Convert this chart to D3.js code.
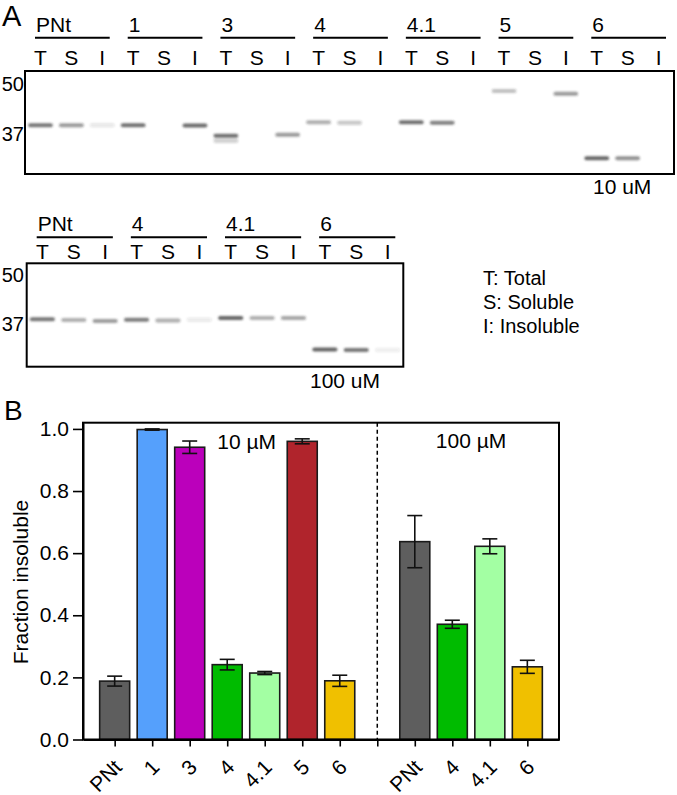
<!DOCTYPE html>
<html><head><meta charset="utf-8">
<script src="https://cdn.jsdelivr.net/npm/d3@7/dist/d3.min.js"></script>
<style>
html,body{margin:0;padding:0;background:#fff;}
svg{display:block;font-family:"Liberation Sans",Arial,Helvetica,sans-serif;}
</style></head>
<body>
<svg id="fig" width="677" height="795"></svg>
<script>
// ---------- Panel A data ----------
const gel1Groups = ["PNt","1","3","4","4.1","5","6"];
const gel2Groups = ["PNt","4","4.1","6"];
const laneLabels = ["T","S","I"];
const markers = [50, 37];
// bands: [lane index, apparent MW (kDa), intensity 0-1]
const gel1Bands = [
  [0,38.9,0.75],[1,38.9,0.55],[2,38.9,0.14],
  [3,38.9,0.78],[5,38.8,0.82],
  [6,36.5,0.8],[6,35.4,0.28],[8,36.7,0.55],
  [9,39.6,0.45],[10,39.5,0.32],
  [12,39.6,0.8],[13,39.5,0.7],
  [15,47.8,0.35],[17,47.0,0.55],
  [18,31.9,0.85],[19,31.9,0.6]
];
const gel2Bands = [
  [0,38.0,0.75],[1,37.8,0.45],[2,37.6,0.55],
  [3,37.9,0.72],[4,37.7,0.45],[5,37.9,0.12],
  [6,38.3,0.85],[7,38.3,0.45],[8,38.3,0.5],
  [9,31.5,0.85],[10,31.4,0.75],[11,31.4,0.1]
];
const legendLines = ["T: Total","S: Soluble","I: Insoluble"];

// ---------- Panel B data ----------
const categories10 = ["PNt","1","3","4","4.1","5","6"];
const means10 = [0.188,0.998,0.941,0.241,0.214,0.960,0.189];
const errs10  = [0.016,0.002,0.020,0.017,0.005,0.008,0.018];
const colors10 = ["#5e5e5e","#55a0fc","#bb00bb","#00bb00","#a3ffa3","#b0242c","#f0c000"];
const categories100 = ["PNt","4","4.1","6"];
const means100 = [0.637,0.371,0.622,0.234];
const errs100  = [0.084,0.013,0.024,0.021];
const colors100 = ["#5e5e5e","#00bb00","#a3ffa3","#f0c000"];
const yTicks = [0,0.2,0.4,0.6,0.8,1.0];

const svg = d3.select("#fig");
const FS = 21;

// blur filter for gel bands
const defs = svg.append("defs");
defs.append("filter").attr("id","blur").attr("x","-20%").attr("y","-100%").attr("width","140%").attr("height","300%")
  .append("feGaussianBlur").attr("stdDeviation","1.2 0.8");

// panel letters
svg.append("text").attr("x",2).attr("y",26).attr("font-size",29).text("A");
svg.append("text").attr("x",4).attr("y",420).attr("font-size",28).text("B");

function drawGel(cfg){
  const g = svg.append("g");
  const nL = cfg.groups.length*3;
  const lane = d3.scaleBand().domain(d3.range(nL)).range([cfg.x0,cfg.x1]);
  const mw = d3.scaleLog().domain([50,37]).range(cfg.mwY);
  // group labels + underlines
  cfg.groups.forEach((name,i)=>{
    const s = lane(i*3)+10, e = lane(i*3+2)+lane.bandwidth()-8;
    g.append("line").attr("x1",s).attr("x2",e).attr("y1",cfg.lineY).attr("y2",cfg.lineY)
      .attr("stroke","#000").attr("stroke-width",2);
    g.append("text").attr("x",s+1).attr("y",cfg.lineY-6).attr("font-size",FS).text(name);
    laneLabels.forEach((l,j)=>{
      g.append("text").attr("x",lane(i*3+j)+lane.bandwidth()/2).attr("y",cfg.tsiY)
        .attr("text-anchor","middle").attr("font-size",FS).text(l);
    });
  });
  // bands
  g.append("g").attr("filter","url(#blur)").selectAll("rect").data(cfg.bands).join("rect")
    .attr("x",d=>lane(d[0])+lane.bandwidth()*0.1)
    .attr("width",lane.bandwidth()*0.8)
    .attr("y",d=>mw(d[1])-2).attr("height",4).attr("rx",2)
    .attr("fill","#2e2e2e").attr("fill-opacity",d=>d[2]*0.85);
  // frame
  g.append("rect").attr("x",cfg.x0).attr("y",cfg.y0).attr("width",cfg.x1-cfg.x0).attr("height",cfg.y1-cfg.y0)
    .attr("fill","none").attr("stroke","#000").attr("stroke-width",2);
  // markers
  markers.forEach(m=>{
    g.append("text").attr("x",24).attr("y",mw(m)+7).attr("text-anchor","end").attr("font-size",20).text(m);
  });
  g.append("text").attr("x",cfg.concX).attr("y",cfg.concY).attr("font-size",FS).text(cfg.conc);
}

drawGel({groups:gel1Groups,bands:gel1Bands,x0:25,x1:674,y0:71,y1:174,mwY:[83.5,133.5],
  lineY:37.7,tsiY:64.5,conc:"10 uM",concX:593,concY:194});
drawGel({groups:gel2Groups,bands:gel2Bands,x0:26.7,x1:403.3,y0:263.3,y1:366.7,mwY:[275,323.5],
  lineY:237.3,tsiY:259.3,conc:"100 uM",concX:310,concY:388});

// legend
legendLines.forEach((t,i)=>{
  svg.append("text").attr("x",483).attr("y",285+i*24).attr("font-size",20).text(t);
});

// ---------- Panel B ----------
const L=83, R=559, B=739.5, T=422.7;
const y = d3.scaleLinear().domain([0,1.02]).range([B,T]);
const keys = categories10.map(c=>c+"|10").concat(["gap"]).concat(categories100.map(c=>c+"|100"));
const x = d3.scalePoint().domain(keys).range([L,R]).padding(0.844);
const bars = categories10.map((c,i)=>({k:c+"|10",v:means10[i],e:errs10[i],col:colors10[i]}))
  .concat(categories100.map((c,i)=>({k:c+"|100",v:means100[i],e:errs100[i],col:colors100[i]})));
const bw = 30, cap = 15;
const pb = svg.append("g");

pb.selectAll("rect.bar").data(bars).join("rect").attr("class","bar")
  .attr("x",d=>x(d.k)-bw/2).attr("width",bw)
  .attr("y",d=>y(d.v)).attr("height",d=>B-y(d.v))
  .attr("fill",d=>d.col).attr("stroke","#1a1a1a").attr("stroke-width",1.6);

const eb = pb.selectAll("g.eb").data(bars).join("g").attr("class","eb")
  .attr("stroke","#111").attr("stroke-width",1.6);
eb.append("line").attr("x1",d=>x(d.k)).attr("x2",d=>x(d.k)).attr("y1",d=>y(d.v-d.e)).attr("y2",d=>y(d.v+d.e));
eb.append("line").attr("x1",d=>x(d.k)-cap/2).attr("x2",d=>x(d.k)+cap/2).attr("y1",d=>y(d.v+d.e)).attr("y2",d=>y(d.v+d.e));
eb.append("line").attr("x1",d=>x(d.k)-cap/2).attr("x2",d=>x(d.k)+cap/2).attr("y1",d=>y(d.v-d.e)).attr("y2",d=>y(d.v-d.e));

// dashed separator
pb.append("line").attr("x1",x("gap")).attr("x2",x("gap")).attr("y1",T).attr("y2",B)
  .attr("stroke","#000").attr("stroke-width",1.5).attr("stroke-dasharray","4,3");

// frame
pb.append("rect").attr("x",L).attr("y",T).attr("width",R-L).attr("height",B-T)
  .attr("fill","none").attr("stroke","#000").attr("stroke-width",2);

// axes
const ya = pb.append("g").attr("transform",`translate(${L},0)`)
  .call(d3.axisLeft(y).tickValues(yTicks).tickFormat(d3.format(".1f")).tickSize(10).tickSizeOuter(0).tickPadding(4));
ya.select(".domain").attr("stroke-width",2);
ya.selectAll(".tick line").attr("stroke-width",1.6);
ya.selectAll("text").attr("font-size",FS).attr("font-family","Liberation Sans, Arial, sans-serif").attr("fill","#000");

const xa = pb.append("g").attr("transform",`translate(0,${B})`)
  .call(d3.axisBottom(x).tickSize(7).tickSizeOuter(0).tickFormat(k=>k==="gap"?"":k.split("|")[0]));
xa.select(".domain").attr("stroke-width",2);
xa.selectAll(".tick line").attr("stroke-width",1.6);
xa.selectAll("text").attr("font-size",FS).attr("font-family","Liberation Sans, Arial, sans-serif").attr("fill","#000")
  .attr("x",0).attr("y",0).attr("dy",0).attr("text-anchor","end")
  .attr("transform","translate(8,29) rotate(-45)");

// axis title
svg.append("text").attr("transform","translate(28,582) rotate(-90)").attr("text-anchor","middle")
  .attr("font-size",FS).text("Fraction insoluble");

// concentration labels
svg.append("text").attr("x",x("4|10")).attr("y",449).attr("font-size",FS).attr("text-anchor","start")
  .attr("dx",-10).text("10 µM");
svg.append("text").attr("x",(x("4|100")+x("4.1|100"))/2).attr("y",448).attr("font-size",FS).attr("text-anchor","middle")
  .text("100 µM");
</script>
</body></html>
